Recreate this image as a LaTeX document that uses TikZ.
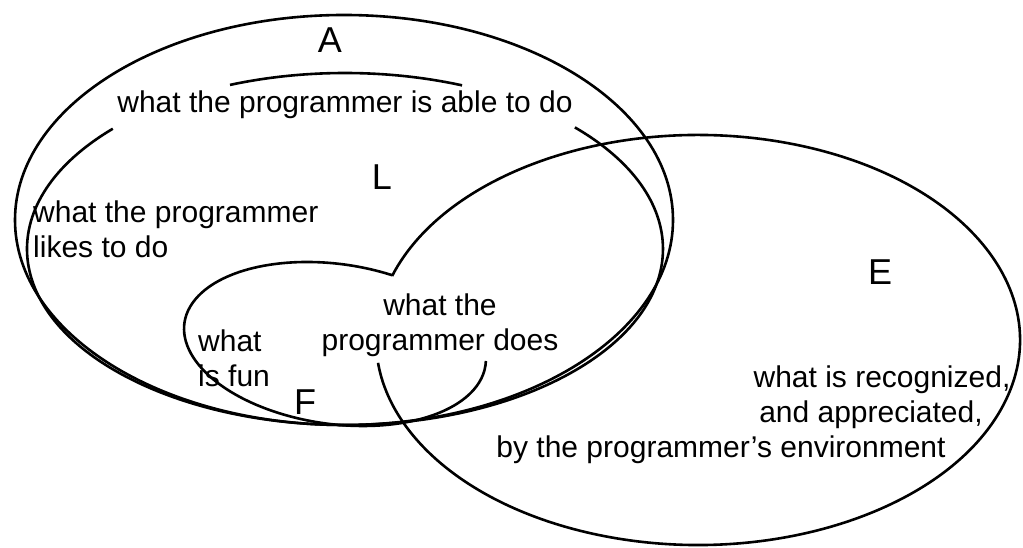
\documentclass[tikz,border=0pt]{standalone}
\usepackage{fontspec}
\setmainfont{Liberation Sans}

\begin{document}
\begin{tikzpicture}[x=1pt, y=1pt,
    set/.style={line width=2.6pt, black},
    setname/.style={font=\fontsize{36}{40}\selectfont, inner sep=0pt},
    words/.style={font=\fontsize{30}{35}\selectfont, inner sep=0pt}
  ]
  \useasboundingbox (0,0) rectangle (1023,548);
  \coordinate (ca) at (344,328);
  \coordinate (cl) at (345,299);
  \coordinate (ce) at (698,208);
  \coordinate (cf) at (335,204);

  % A: able to do
  \draw[set] (ca) ellipse [x radius=329, y radius=205];
  % L: likes to do, broken where the text runs across it
  \draw[set] (cl) ++(68.4:318 and 176) arc[start angle=68.4, end angle=111.2, x radius=318, y radius=176];
  \draw[set] (cl) ++(136.9:318 and 176) arc[start angle=136.9, end angle=403.7, x radius=318, y radius=176];
  % F: fun
  \begin{scope}[shift={(cf)}, rotate=-8]
    \draw[set] (72:152 and 80) arc[start angle=72, end angle=363, x radius=152, y radius=80];
  \end{scope}
  % E: environment
  \draw[set] (ce) ++(161.8:322 and 205) arc[start angle=161.8, end angle=-173.6, x radius=322, y radius=205];

  \node[setname] (a) at (330,508) {A};
  \node[words] (able) at (345,443) {what the programmer is able to do};
  \node[setname] (l) at (382,371) {L};
  \node[words, anchor=west, align=left] (likes) at (33,319) {what the programmer\\likes to do};
  \node[setname] (e) at (880,276) {E};
  \node[words, anchor=west, align=left] (fun) at (198,190) {what\\is fun};
  \node[words, align=center] (does) at (440,223) {what the\\programmer does};
  \node[setname] (f) at (305,146) {F};
  \node[words] (recog) at (882,168) {what is recognized,};
  \node[words] (appr) at (871,133) {and appreciated,};
  \node[words] (env) at (721,98) {by the programmer's environment};
\end{tikzpicture}
\end{document}
